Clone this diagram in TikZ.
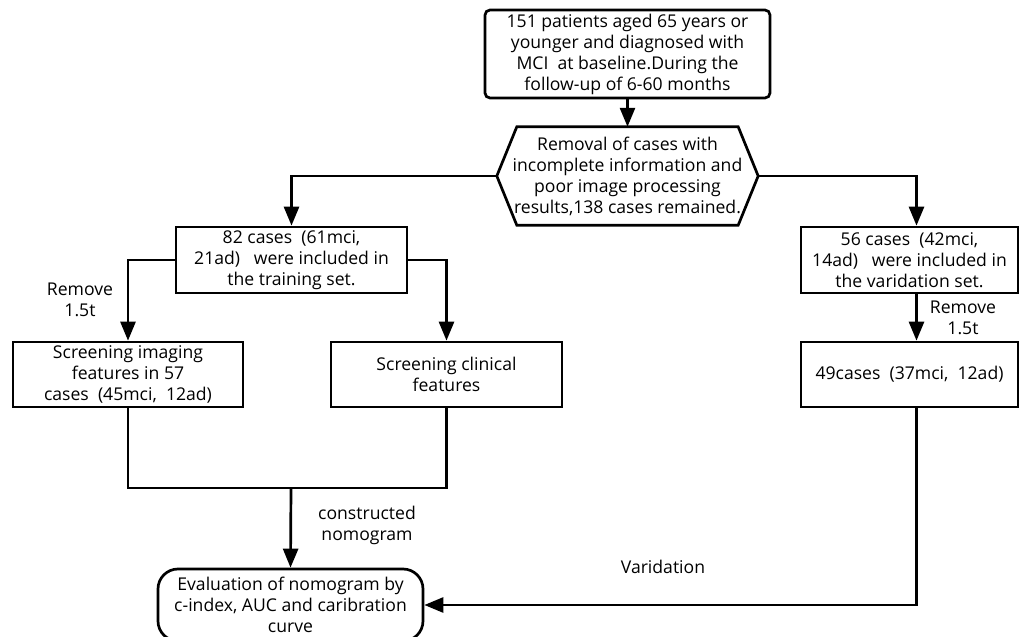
\documentclass[tikz,border=0pt]{standalone}
\usepackage{fontspec}
\setmainfont{Open Sans}
\usetikzlibrary{arrows.meta,calc}

\begin{document}
\begin{tikzpicture}[x=1pt,y=-1pt,
  every node/.style={font=\fontsize{17.6}{21}\selectfont,align=center,inner sep=1pt},
  box/.style={draw,line width=2.7pt,minimum width=#1,minimum height=65pt},
  link/.style={draw,line width=2.7pt,-{Triangle[length=19pt,width=15pt]}},
  line/.style={draw,line width=2.7pt}]
\useasboundingbox (0,0) rectangle (1021,637);
\node[box=285pt, minimum height=88pt, rounded corners=5pt] (start) at (627.5,54) {151 patients aged 65 years or\\younger and diagnosed with\\MCI\ \ at baseline.During the\\follow-up of 6-60 months};
\node[minimum width=261pt, minimum height=98pt] (remove) at (627.5,176) {Removal of cases with\\incomplete information and\\poor image processing\\results,138 cases remained.};
\node[box=231pt, minimum height=66pt] (train) at (291.5,260) {82 cases\ \ (61mci,\\21ad)\ \ \ were included in\\the training set.};
\node[box=217pt, minimum height=66pt] (valid) at (909.5,260) {56 cases\ \ (42mci,\\14ad)\ \ \ were included in\\the varidation set.};
\node[box=230pt] (imaging) at (128,374.5) {Screening imaging\\features in 57\\cases\ \ (45mci,\ \ 12ad)};
\node[box=231pt] (clinical) at (446.5,374.5) {Screening clinical\\features};
\node[box=217pt] (vcases) at (909.5,374.5) {49cases\ \ (37mci,\ \ 12ad)};
\node[box=265pt, minimum height=72pt, rounded corners=20pt] (eval) at (290.5,605) {Evaluation of nomogram by\\c-index, AUC and caribration\\curve};
\coordinate (merge) at (291,488);
% hexagon outline
\path[line] (remove.west) -- ([xshift=20pt]remove.north west) -- ([xshift=-20pt]remove.north east) -- (remove.east) -- ([xshift=-20pt]remove.south east) -- ([xshift=20pt]remove.south west) -- cycle;
% labels
\node (lrm) at (80,300) {Remove\\1.5t};
\node (rrm) at (963,318) {Remove\\1.5t};
\node (cons) at (367,525) {constructed\\nomogram};
\node (vlab) at (663,567) {Varidation};
% connectors
\path[link] (start) -- (remove);
\path[link] (remove.west) -| (train.north);
\path[link] (remove.east) -| ([xshift=7pt]valid.north);
\path[link] (train.west) -| (imaging.north);
\path[link] (train.east) -| (clinical.north);
\path[link] ([xshift=7pt]valid.south) -- ([xshift=7pt]vcases.north);
\path[line] (imaging.south) |- (merge) -| (clinical.south);
\path[link] (merge) -- (eval.north);
\path[link] ([xshift=7pt]vcases.south) |- (eval.east);
\end{tikzpicture}
\end{document}
